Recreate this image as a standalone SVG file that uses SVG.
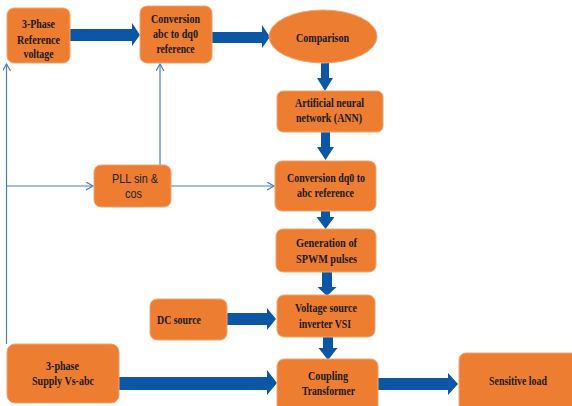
<svg xmlns="http://www.w3.org/2000/svg" width="572" height="406" viewBox="0 0 572 406">
<defs>
<style>
.box{fill:#ED7D31;stroke:#F2A572;stroke-width:1}
.t{font-family:"Liberation Serif","Times New Roman",serif;font-weight:bold;font-size:13.5px;fill:#1a1a1a;text-anchor:middle}
.s{font-family:"Liberation Sans",Arial,sans-serif;font-size:13px;fill:#222;text-anchor:middle}
.big{fill:#0B57A6}
.thin{stroke:#4A7FC1;stroke-width:1.2;fill:none}
</style>
<marker id="op" markerUnits="userSpaceOnUse" markerWidth="10" markerHeight="10" refX="7" refY="4" orient="auto">
<path d="M0,0 L7,4 L0,8" fill="none" stroke="#4A7FC1" stroke-width="1.2"/>
</marker>
</defs>
<rect width="572" height="406" fill="#ffffff"/>

<g id="connectors">
<polygon class="big" points="70,29 132,29 132,23 140,35 132,46 132,41 70,41"/>
<polygon class="big" points="212,32 262,32 262,25 270,37 262,48 262,43 212,43"/>
<polygon class="big" points="321,58 329,58 329,78 333,78 325,91 317,78 321,78"/>
<polygon class="big" points="321,132 330,132 330,147 334,147 325.5,160 317,147 321,147"/>
<polygon class="big" points="321,211 330,211 330,217 334.5,217 325.5,229 316.5,217 321,217"/>
<polygon class="big" points="322,272 332,272 332,287 336.5,287 327,296 317.5,287 322,287"/>
<polygon class="big" points="323,337 333,337 333,348 337.5,348 328,360 318.5,348 323,348"/>
<polygon class="big" points="227,313 267,313 267,308 276,319 267,330 267,325 227,325"/>
<polygon class="big" points="119,377 267,377 267,370 277,383 267,395 267,390 119,390"/>
<polygon class="big" points="378,378 448,378 448,373 458,384 448,395 448,390 378,390"/>
<path class="thin" d="M6.5,344 V64" marker-end="url(#op)"/>
<path class="thin" d="M6.5,186 H93" marker-end="url(#op)"/>
<path class="thin" d="M171,186 H274" marker-end="url(#op)"/>
<path class="thin" d="M160,165 V64" marker-end="url(#op)"/>
</g>

<g id="ref-voltage">
<rect class="box" x="7" y="8" width="63" height="55" rx="7"/>
<text class="t" x="38.5" y="28" textLength="33" lengthAdjust="spacingAndGlyphs">3-Phase</text>
<text class="t" x="38.5" y="44" textLength="43" lengthAdjust="spacingAndGlyphs">Reference</text>
<text class="t" x="38.5" y="58" textLength="30" lengthAdjust="spacingAndGlyphs">voltage</text>
</g>

<g id="abc-dq0">
<rect class="box" x="140" y="6" width="72" height="57" rx="7"/>
<text class="t" x="175.5" y="23" textLength="49" lengthAdjust="spacingAndGlyphs">Conversion</text>
<text class="t" x="175.5" y="38" textLength="45" lengthAdjust="spacingAndGlyphs">abc to dq0</text>
<text class="t" x="175.5" y="53" textLength="38" lengthAdjust="spacingAndGlyphs">reference</text>
</g>

<g id="comparison">
<ellipse class="box" cx="323" cy="36.5" rx="54" ry="26.5"/>
<text class="t" x="322.5" y="42" textLength="53" lengthAdjust="spacingAndGlyphs">Comparison</text>
</g>

<g id="ann">
<rect class="box" x="277" y="91" width="106" height="41" rx="6"/>
<text class="t" x="329.5" y="107" textLength="69" lengthAdjust="spacingAndGlyphs">Artificial neural</text>
<text class="t" x="329" y="122" textLength="66" lengthAdjust="spacingAndGlyphs">network (ANN)</text>
</g>

<g id="dq0-abc">
<rect class="box" x="275" y="161" width="101" height="50" rx="7"/>
<text class="t" x="326" y="182" textLength="78" lengthAdjust="spacingAndGlyphs">Conversion dq0 to</text>
<text class="t" x="325.5" y="197" textLength="57" lengthAdjust="spacingAndGlyphs">abc reference</text>
</g>

<g id="spwm">
<rect class="box" x="276" y="229" width="100" height="43" rx="7"/>
<text class="t" x="326.5" y="247" textLength="61" lengthAdjust="spacingAndGlyphs">Generation of</text>
<text class="t" x="326.5" y="263" textLength="61" lengthAdjust="spacingAndGlyphs">SPWM pulses</text>
</g>

<g id="vsi">
<rect class="box" x="277" y="295" width="98" height="42" rx="7"/>
<text class="t" x="326" y="312" textLength="62" lengthAdjust="spacingAndGlyphs">Voltage source</text>
<text class="t" x="325" y="328" textLength="52" lengthAdjust="spacingAndGlyphs">inverter VSI</text>
</g>

<g id="coupling">
<rect class="box" x="277" y="359" width="101" height="54" rx="7"/>
<text class="t" x="328" y="380" textLength="40" lengthAdjust="spacingAndGlyphs">Coupling</text>
<text class="t" x="328.5" y="395" textLength="53" lengthAdjust="spacingAndGlyphs">Transformer</text>
</g>

<g id="load">
<rect class="box" x="459" y="353" width="122" height="62" rx="7"/>
<text class="t" x="518" y="385" textLength="58" lengthAdjust="spacingAndGlyphs">Sensitive load</text>
</g>

<g id="dc-source">
<rect class="box" x="150" y="299" width="77" height="41" rx="7"/>
<text class="t" x="179" y="324" textLength="44" lengthAdjust="spacingAndGlyphs">DC source</text>
</g>

<g id="supply">
<rect class="box" x="7" y="344" width="112" height="59" rx="8"/>
<text class="t" x="62.5" y="370" textLength="33" lengthAdjust="spacingAndGlyphs">3-phase</text>
<text class="t" x="63" y="385" textLength="62" lengthAdjust="spacingAndGlyphs">Supply Vs-abc</text>
</g>

<g id="pll">
<rect class="box" x="94" y="165" width="77" height="42" rx="7"/>
<text class="s" x="135" y="183" textLength="46" lengthAdjust="spacingAndGlyphs">PLL sin &amp;</text>
<text class="s" x="133.5" y="198" textLength="17" lengthAdjust="spacingAndGlyphs">cos</text>
</g>
</svg>
